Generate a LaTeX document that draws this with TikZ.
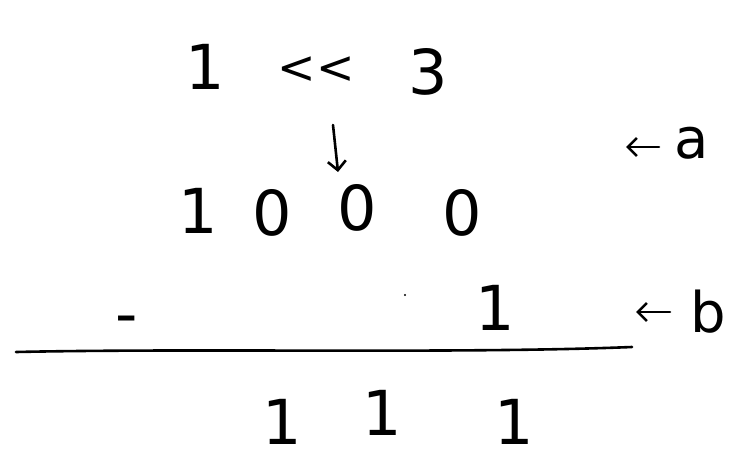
\documentclass[tikz,border=0pt]{standalone}
\usepackage{fontspec}
\setmainfont{DejaVu Sans}
\usetikzlibrary{arrows.meta}
\tikzset{
	digit/.style={font=\fontsize{62}{62}\selectfont, inner sep=0pt},
	tag/.style={font=\fontsize{56}{56}\selectfont, inner sep=0pt},
	pen/.style={line width=2.6pt, line cap=round},
	pointer/.style={pen, -{Straight Barb[length=9pt, width=18pt]}},
}
\begin{document}
\begin{tikzpicture}[x=1pt, y=-1pt]
	\useasboundingbox (0,0) rectangle (733,468);
	% 1 << 3
	\draw (205,67) node[digit] (one) {1};
	\draw (316,70) node[digit, font=\fontsize{46}{46}\selectfont] (shift) {<{}<};
	\draw (428,72) node[digit] (three) {3};
	\coordinate (arrtop) at (333,125);
	\coordinate (arrend) at (338,172);
	\draw[pointer] (arrtop) -- (arrend);
	% a = 1000
	\draw (198,211) node[digit] (aone) {1};
	\draw (272,213) node[digit] (azero) {0};
	\draw (357,208) node[digit] (azeroo) {0};
	\draw (462,213) node[digit] (azerooo) {0};
	\draw (692,143) node[tag] (a) {a};
	\coordinate (apt) at (626,147);
	\coordinate (afrom) at (659,147);
	\draw[pointer] (afrom) -- (apt);
	% b = minus 1
	\draw (127,326) node[digit] (minus) {-};
	\fill (405,295) circle (1.2pt) coordinate (dot);
	\draw (495,308) node[digit] (bone) {1};
	\draw (708,312) node[tag] (b) {b};
	\coordinate (bpt) at (636,312);
	\coordinate (bfrom) at (670,312);
	\draw[pointer] (bfrom) -- (bpt);
	% rule
	\coordinate (left) at (16,352);
	\coordinate (right) at (632,347);
	\draw[pen] (left) .. controls (200,348) and (460,354) .. (right);
	% result 111
	\draw (282,422) node[digit] (rone) {1};
	\draw (382,413) node[digit] (rtwo) {1};
	\draw (514,422) node[digit] (rthree) {1};
\end{tikzpicture}
\end{document}
